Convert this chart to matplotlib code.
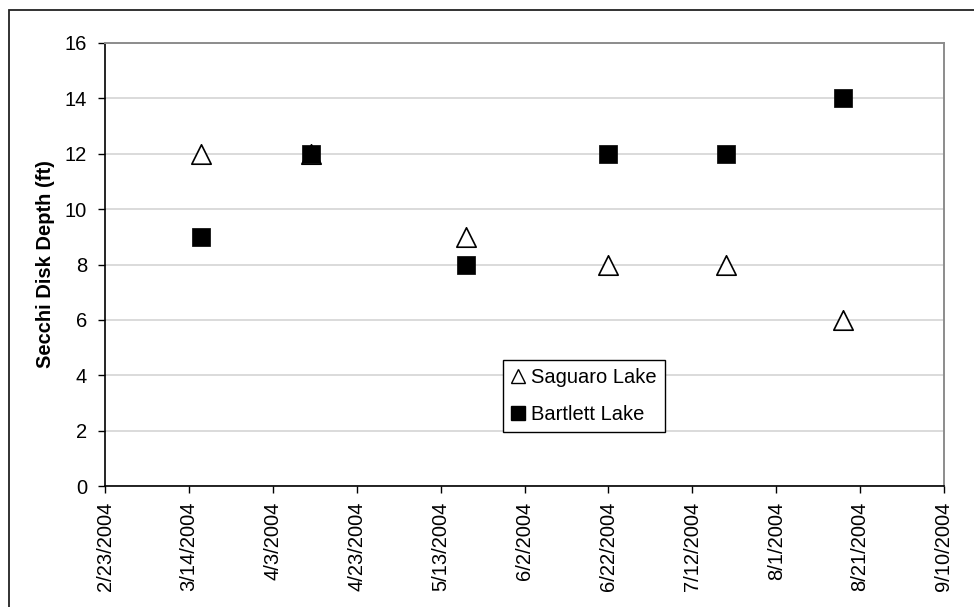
import matplotlib
matplotlib.use("Agg")
import matplotlib.pyplot as plt
import matplotlib.dates as mdates
from matplotlib.lines import Line2D
from matplotlib.patches import Rectangle
from matplotlib.ticker import FuncFormatter, MultipleLocator
import datetime as dt

plt.rcParams['font.family'] = ['Liberation Sans', 'DejaVu Sans']

# ---- data ----
sample_dates = ['2004-03-17', '2004-04-12', '2004-05-19', '2004-06-22', '2004-07-20', '2004-08-17']
saguaro_depth = [12, 12, 9, 8, 8, 6]
bartlett_depth = [9, 12, 8, 12, 12, 14]
series_names = ['Saguaro Lake', 'Bartlett Lake']
y_label = 'Secchi Disk Depth (ft)'
x_start = '2004-02-23'
x_end = '2004-09-10'
tick_step_days = 20

dates = [dt.datetime.strptime(d, '%Y-%m-%d') for d in sample_dates]
x0 = dt.datetime.strptime(x_start, '%Y-%m-%d')
x1 = dt.datetime.strptime(x_end, '%Y-%m-%d')

W, H = 974, 607
fig = plt.figure(figsize=(W / 100, H / 100), dpi=100)
fig.patch.set_facecolor('white')

# outer chart border (extends off the right/bottom edge as in reference)
fig.patches.append(Rectangle((9 / W, -0.2), 1.2, 1 - 10 / H + 0.2,
                             transform=fig.transFigure, fill=False,
                             edgecolor='#222222', linewidth=1.3, clip_on=False))

left, right, top, bottom = 105, 944, 43, 486
ax = fig.add_axes([left / W, 1 - bottom / H, (right - left) / W, (bottom - top) / H])

ax.scatter(dates, saguaro_depth, marker='^', s=14 ** 2, facecolors='white',
           edgecolors='black', linewidths=1.2, zorder=3)
ax.scatter(dates, bartlett_depth, marker='s', s=13.5 ** 2, facecolors='black',
           edgecolors='black', linewidths=0.5, zorder=4)

ax.set_xlim(x0, x1)
ax.set_ylim(0, 16)
ax.yaxis.set_major_locator(MultipleLocator(2))
ticks = []
t = x0
while t <= x1:
    ticks.append(t)
    t += dt.timedelta(days=tick_step_days)
ax.set_xticks(ticks)
ax.xaxis.set_major_formatter(FuncFormatter(
    lambda v, p: (lambda d: f"{d.month}/{d.day}/{d.year}")(mdates.num2date(v))))

for lab in ax.get_xticklabels():
    lab.set_rotation(90)

ax.tick_params(axis='both', direction='out', length=5, width=1, labelsize=14.5, colors='black')
ax.tick_params(axis='x', pad=6)
ax.tick_params(axis='y', pad=8)

ax.grid(axis='y', color='#d4d4d4', linewidth=1.2, zorder=0)
ax.set_axisbelow(True)

for s in ['left', 'bottom']:
    ax.spines[s].set_color('black')
    ax.spines[s].set_linewidth(1.2)
for s in ['top', 'right']:
    ax.spines[s].set_color('#8c8c8c')
    ax.spines[s].set_linewidth(1.4)

ax.set_ylabel(y_label, fontsize=14.5, fontweight='bold', va='center')
ax.yaxis.set_label_coords((46 - left) / (right - left), 0.5)

handles = [
    Line2D([], [], linestyle='none', marker='^', markersize=9.5, markerfacecolor='white',
           markeredgecolor='black', markeredgewidth=1.0),
    Line2D([], [], linestyle='none', marker='s', markersize=9.5, markerfacecolor='black',
           markeredgecolor='black'),
]
leg = fig.legend(handles, series_names, loc='upper left',
                 bbox_to_anchor=(503 / W, 1 - 360 / H), fontsize=14.5,
                 frameon=True, fancybox=False, shadow=False, borderpad=0.4,
                 handlelength=0.7, handletextpad=0.3, labelspacing=0.9,
                 borderaxespad=0)
leg.get_frame().set_edgecolor('black')
leg.get_frame().set_linewidth(1.0)
leg.get_frame().set_alpha(None)
leg.get_frame().set_facecolor('white')

fig.savefig('out.png', dpi=100)
